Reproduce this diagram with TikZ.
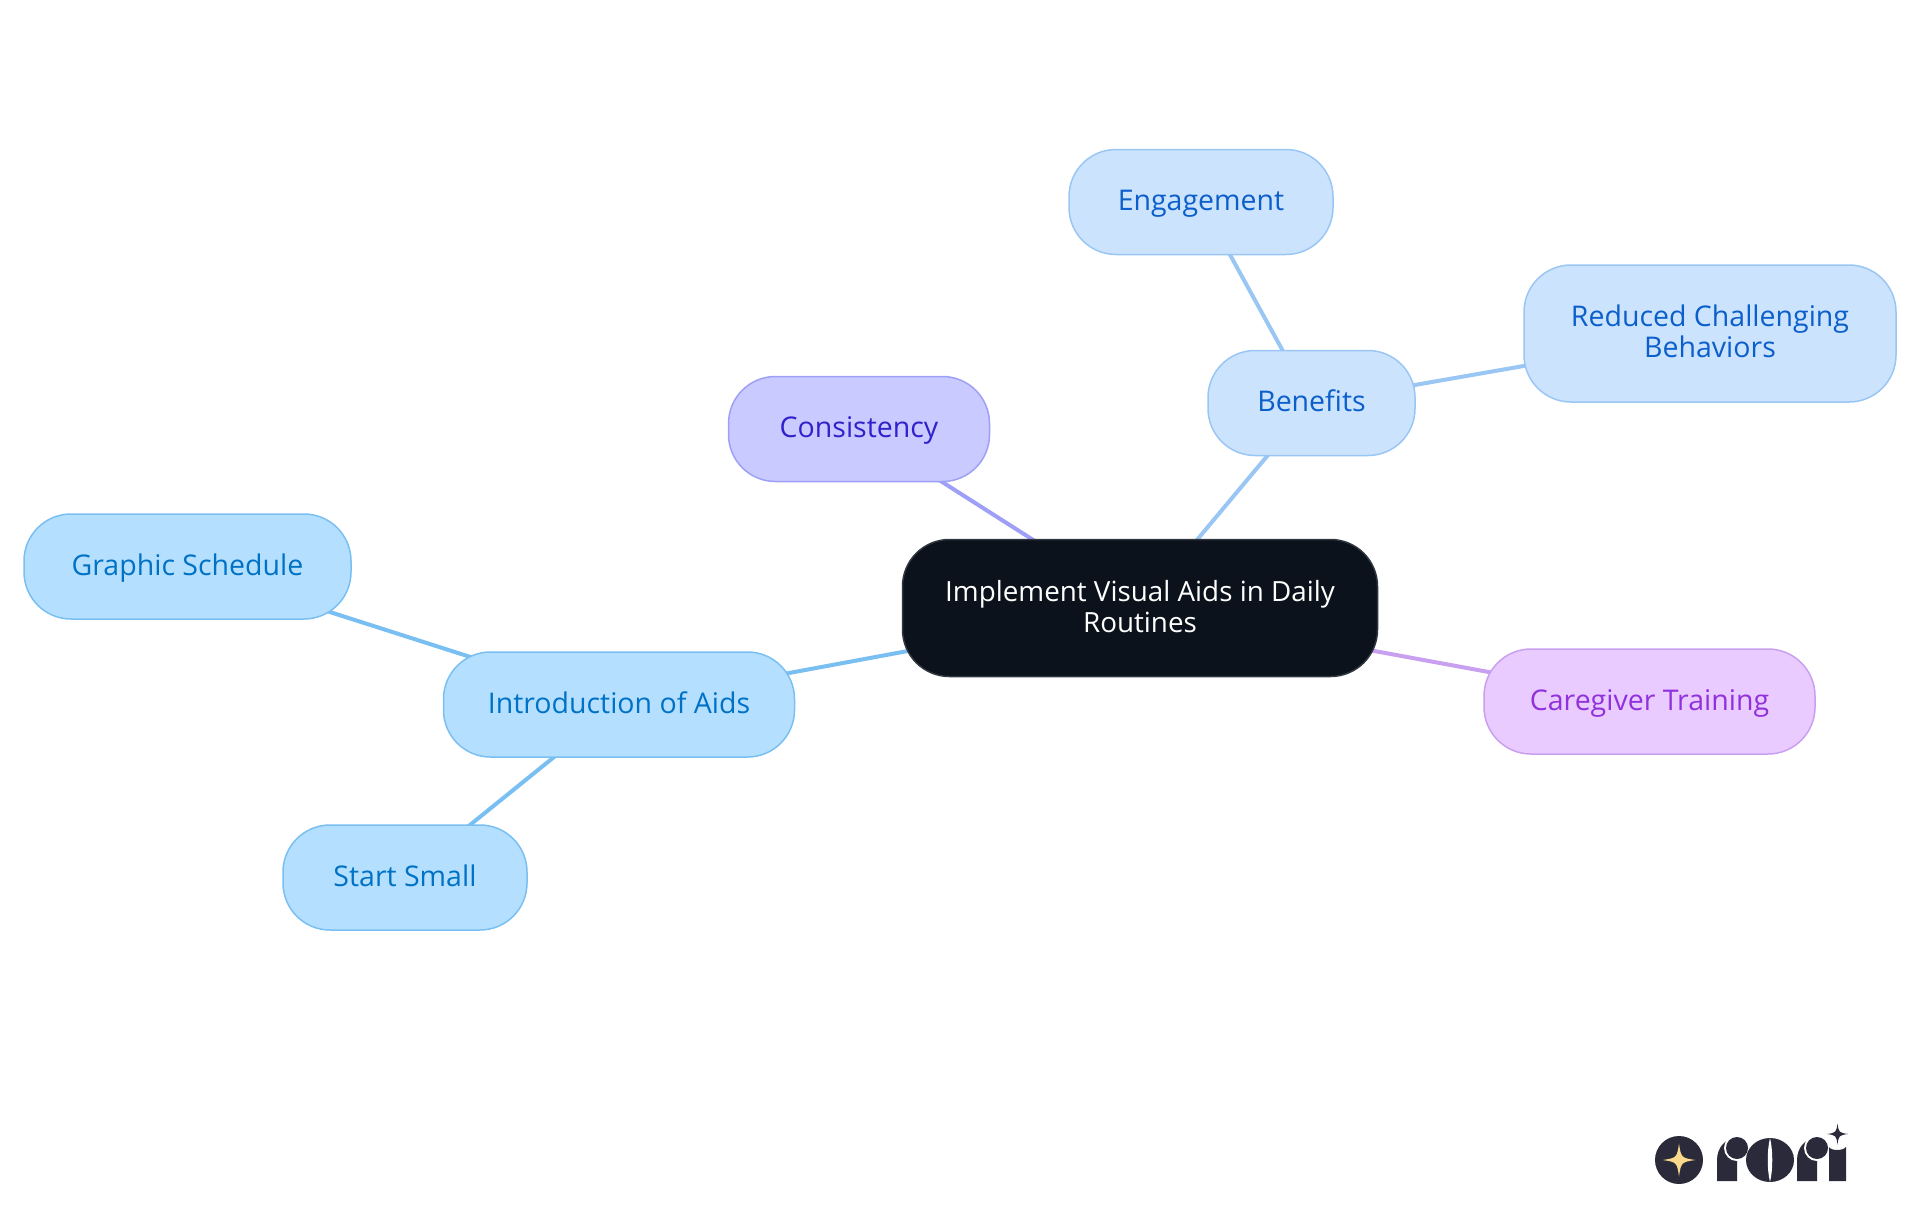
\documentclass[tikz,border=0pt]{standalone}
\usepackage{fontspec}
\setmainfont{Open Sans}
\usetikzlibrary{backgrounds}
\definecolor{cfill}{HTML}{0B121B}\definecolor{cline}{HTML}{30363E}
\definecolor{bfill}{HTML}{CCE3FD}\definecolor{bline}{HTML}{9AC6F4}\definecolor{btext}{HTML}{0B5FCB}
\definecolor{ifill}{HTML}{B5DFFF}\definecolor{iline}{HTML}{7ABFF2}\definecolor{itext}{HTML}{0072C6}
\definecolor{pfill}{HTML}{C9CAFF}\definecolor{pline}{HTML}{9E9FF6}\definecolor{ptext}{HTML}{2F22CC}
\definecolor{vfill}{HTML}{E9CBFF}\definecolor{vline}{HTML}{C9A0F0}\definecolor{vtext}{HTML}{9031DD}
\definecolor{logo}{HTML}{2A2A3A}\definecolor{logostar}{HTML}{FAD98A}
\tikzset{
  box/.style={draw,line width=1.5pt,rounded corners=47pt,align=center,inner sep=0pt,
    minimum height=105pt,font=\fontsize{28.5}{31}\selectfont},
  central/.style={box,fill=cfill,draw=cline,text=white,minimum height=137pt,font=\fontsize{27.8}{31}\selectfont},
  bluebox/.style={box,fill=bfill,draw=bline,text=btext},
  skybox/.style={box,fill=ifill,draw=iline,text=itext},
  purplebox/.style={box,fill=pfill,draw=pline,text=ptext},
  violetbox/.style={box,fill=vfill,draw=vline,text=vtext},
  link/.style={line width=4pt}
}
\newcommand{\toprow}{\rule{0pt}{24.5pt}}
\newcommand{\lastrow}{\vphantom{y}}
\newcommand{\starpath}[3]{% x y r
  (#1-#3,#2) .. controls (#1-0.15*#3,#2-0.12*#3) and (#1-0.12*#3,#2-0.15*#3) .. (#1,#2-#3)
  .. controls (#1+0.12*#3,#2-0.15*#3) and (#1+0.15*#3,#2-0.12*#3) .. (#1+#3,#2)
  .. controls (#1+0.15*#3,#2+0.12*#3) and (#1+0.12*#3,#2+0.15*#3) .. (#1,#2+#3)
  .. controls (#1-0.12*#3,#2+0.15*#3) and (#1-0.15*#3,#2+0.12*#3) .. (#1-#3,#2) -- cycle}
\begin{document}
\begin{tikzpicture}[x=1pt,y=-1pt]
\useasboundingbox (0,0) rectangle (1920,1215);
\node[central,minimum width=475pt] (center) at (1140,608) {\toprow Implement Visual Aids in Daily\\Routines\lastrow};
\node[bluebox,minimum width=207pt] (benefits) at (1311.500,403) {\toprow Benefits\lastrow};
\node[bluebox,minimum width=264pt] (engagement) at (1201,202) {\toprow Engagement\lastrow};
\node[bluebox,minimum width=372pt,minimum height=137pt] (reduced) at (1710,333.500) {\toprow Reduced Challenging\\Behaviors\lastrow};
\node[purplebox,minimum width=261pt] (consistency) at (859,429) {\toprow Consistency\lastrow};
\node[violetbox,minimum width=331pt] (caregiver) at (1649.500,701.500) {\toprow Caregiver Training\lastrow};
\node[skybox,minimum width=351pt] (intro) at (619,704.500) {\toprow Introduction of Aids\lastrow};
\node[skybox,minimum width=327pt] (graphic) at (187.500,566.500) {\toprow Graphic Schedule\lastrow};
\node[skybox,minimum width=244pt] (start) at (405,877.500) {\toprow Start Small\lastrow};
\begin{scope}[on background layer]
\draw[link,draw=bline] (center.center) -- (benefits.center);
\draw[link,draw=bline] (benefits.center) -- (engagement.center);
\draw[link,draw=bline] (benefits.center) -- (reduced.center);
\draw[link,draw=pline] (center.center) -- (consistency.center);
\draw[link,draw=vline] (center.center) -- (caregiver.center);
\draw[link,draw=iline] (center.center) -- (intro.center);
\draw[link,draw=iline] (intro.center) -- (graphic.center);
\draw[link,draw=iline] (intro.center) -- (start.center);
\end{scope}
% logo
\fill[logo] (1679,1160) circle (24);
\fill[logostar] \starpath{1679}{1160}{16.500};
\fill[logo] (1717,1181) -- (1717,1160) .. controls (1717,1148) and (1725,1138) .. (1737,1138) -- (1737,1181) -- cycle;
\fill[white] (1737,1148) circle (13);
\fill[logo] (1737,1148) circle (11);
\fill[logo] (1770,1160) ellipse (24 and 22);
\fill[white] (1770,1138) .. controls (1767,1150) and (1767,1170) .. (1770,1182) .. controls (1773,1170) and (1773,1150) .. (1770,1138) -- cycle;
\fill[logo] (1797,1181) -- (1797,1160) .. controls (1797,1148) and (1805,1138) .. (1817,1138) -- (1817,1181) -- cycle;
\fill[white] (1817,1148) circle (13);
\fill[logo] (1817,1148) circle (11);
\fill[logo] (1829,1147) .. controls (1831,1151) and (1843,1151) .. (1846,1147) -- (1846,1181) -- (1829,1181) -- cycle;
\fill[logo] \starpath{1837.500}{1134}{10.500};
\end{tikzpicture}
\end{document}
